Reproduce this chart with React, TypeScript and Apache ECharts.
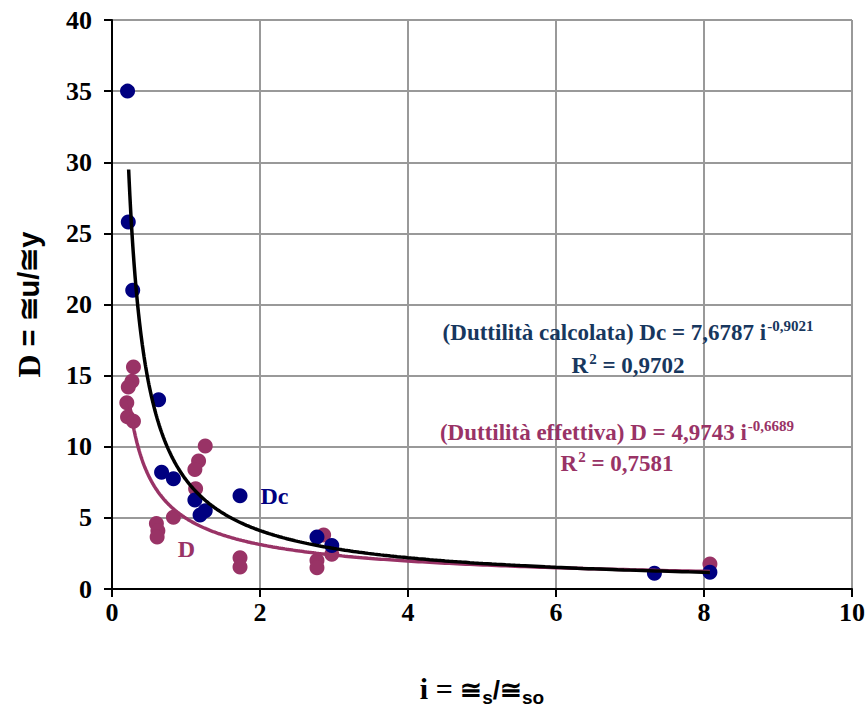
import React, { useEffect, useRef } from "react";
import * as echarts from "echarts";

const dcPoints: [number, number][] = [
  [0.21, 35.0], [0.22, 25.8], [0.28, 21.0], [0.63, 13.3], [0.67, 8.2], [0.83, 7.75],
  [1.12, 6.26], [1.19, 5.2], [1.26, 5.5], [1.73, 6.55], [2.77, 3.65], [2.97, 3.05],
  [7.33, 1.1], [8.08, 1.17],
];

const dPoints: [number, number][] = [
  [0.29, 15.6], [0.27, 14.6], [0.22, 14.2], [0.2, 13.1], [0.21, 12.1], [0.29, 11.8],
  [1.26, 10.05], [1.17, 9.0], [1.12, 8.4], [1.13, 7.05], [0.6, 4.6], [0.83, 5.05],
  [0.62, 4.1], [0.61, 3.65], [1.73, 2.2], [1.73, 1.55], [2.86, 3.8], [2.97, 2.45],
  [2.77, 2.0], [2.77, 1.5], [8.08, 1.75],
];

// Power trendlines as printed on the chart: y = a * i^b
const dcCoef = { a: 7.6787, b: -0.9021 };
const dCoef = { a: 4.9743, b: -0.6689 };
const trendStart = 0.225;
const trendEnd = 8.08;

const xTicks = { min: 0, max: 10, interval: 2 };
const yTicks = { min: 0, max: 40, interval: 5 };

function powerCurve(a: number, b: number, x0: number, x1: number): [number, number][] {
  const out: [number, number][] = [];
  const n = 300;
  for (let k = 0; k <= n; k++) {
    const x = x0 * Math.pow(x1 / x0, k / n);
    out.push([x, a * Math.pow(x, b)]);
  }
  return out;
}

const NAVY = "#000080";
const PINK = "#993366";
const EQ_BLUE = "#17375E";
const SERIF = "Liberation Serif";
const SANS = "Liberation Sans";

export default function App() {
  const ref = useRef<HTMLDivElement>(null);
  useEffect(() => {
    if (!ref.current) return;
    const chart = echarts.init(ref.current, undefined, { renderer: "svg" });
    const dcData = dcPoints.map((p) =>
      p[0] === 1.73
        ? {
            value: p,
            label: {
              show: true,
              position: "right",
              distance: 13,
              formatter: "Dc",
              color: NAVY,
              fontFamily: SERIF,
              fontWeight: "bold",
              fontSize: 24,
            },
          }
        : { value: p }
    );
    const dData = dPoints.map((p) =>
      p[0] === 0.83
        ? {
            value: p,
            label: {
              show: true,
              position: "bottom",
              distance: 12,
              offset: [13, 0],
              formatter: "D",
              color: PINK,
              fontFamily: SERIF,
              fontWeight: "bold",
              fontSize: 24,
            },
          }
        : { value: p }
    );
    const eqRich = (color: string) => ({
      a: {
        fontSize: 23,
        fontFamily: SERIF,
        fontWeight: "bold",
        fill: color,
        color,
        verticalAlign: "bottom",
      },
      s: {
        fontSize: 15,
        fontFamily: SERIF,
        fontWeight: "bold",
        fill: color,
        color,
        verticalAlign: "bottom",
        padding: [0, 0, 10, 1],
      },
    });
    chart.setOption({
      animation: false,
      backgroundColor: "#ffffff",
      grid: { left: 112, right: 16, top: 20, bottom: 120, containLabel: false, outerBoundsMode: "none" },
      xAxis: {
        type: "value",
        min: xTicks.min,
        max: xTicks.max,
        interval: xTicks.interval,
        name: "{i|i = }{c|≅}{sub|s}{c|/≅}{sub|so}",
        nameLocation: "middle",
        nameGap: 84,
        nameTextStyle: {
          rich: {
            i: { fontFamily: SERIF, fontWeight: "bold", fontSize: 30, color: "#000", verticalAlign: "bottom", padding: [0, 0, 4, 0] },
            c: { fontFamily: SANS, fontWeight: "bold", fontSize: 26, color: "#000", verticalAlign: "bottom", padding: [0, 0, 4, 0] },
            sub: { fontFamily: SANS, fontWeight: "bold", fontSize: 19, color: "#000", verticalAlign: "bottom" },
          },
        },
        axisLine: { onZero: false, lineStyle: { color: "#000", width: 2 } },
        axisTick: { show: true, inside: false, length: 8, lineStyle: { color: "#000", width: 2 } },
        axisLabel: { fontFamily: SERIF, fontWeight: "bold", fontSize: 26, color: "#000", margin: 10 },
        splitLine: { show: true, lineStyle: { color: "#999999", width: 2 } },
      },
      yAxis: {
        type: "value",
        min: yTicks.min,
        max: yTicks.max,
        interval: yTicks.interval,
        name: "{d|D }{c|= ≅u/≅y}",
        nameLocation: "middle",
        nameGap: 67,
        nameTextStyle: {
          rich: {
            d: { fontFamily: SERIF, fontWeight: "bold", fontSize: 32, color: "#000" },
            c: { fontFamily: SANS, fontWeight: "bold", fontSize: 29, color: "#000" },
          },
        },
        axisLine: { show: true, onZero: false, lineStyle: { color: "#000", width: 2 } },
        axisTick: { show: true, inside: false, length: 8, lineStyle: { color: "#000", width: 2 } },
        axisLabel: { fontFamily: SERIF, fontWeight: "bold", fontSize: 26, color: "#000", margin: 20 },
        splitLine: { show: true, lineStyle: { color: "#999999", width: 2 } },
      },
      series: [
        {
          type: "scatter",
          data: dData,
          symbol: "circle",
          symbolSize: 15,
          itemStyle: { color: PINK, opacity: 1 },
          z: 2,
        },
        {
          type: "scatter",
          data: dcData,
          symbol: "circle",
          symbolSize: 15,
          itemStyle: { color: NAVY, opacity: 1 },
          z: 3,
        },
        {
          type: "line",
          data: powerCurve(dCoef.a, dCoef.b, trendStart, trendEnd),
          showSymbol: false,
          symbol: "none",
          smooth: false,
          lineStyle: { color: PINK, width: 3.5 },
          z: 4,
        },
        {
          type: "line",
          data: powerCurve(dcCoef.a, dcCoef.b, trendStart, trendEnd),
          showSymbol: false,
          symbol: "none",
          smooth: false,
          lineStyle: { color: "#000", width: 3.5 },
          z: 5,
        },
      ],
      graphic: [
        {
          type: "text",
          x: 628,
          y: 331,
          style: {
            text: "{a|(Duttilità calcolata) Dc = 7,6787 i}{s|-0,9021}",
            rich: eqRich(EQ_BLUE),
            fill: EQ_BLUE,
            align: "center",
            verticalAlign: "middle",
          },
          z: 10,
        },
        {
          type: "text",
          x: 628,
          y: 364,
          style: {
            text: "{a|R}{s|2}{a| = 0,9702}",
            rich: eqRich(EQ_BLUE),
            fill: EQ_BLUE,
            align: "center",
            verticalAlign: "middle",
          },
          z: 10,
        },
        {
          type: "text",
          x: 617,
          y: 431,
          style: {
            text: "{a|(Duttilità effettiva) D = 4,9743 i}{s|-0,6689}",
            rich: eqRich(PINK),
            fill: PINK,
            align: "center",
            verticalAlign: "middle",
          },
          z: 10,
        },
        {
          type: "text",
          x: 617,
          y: 462,
          style: {
            text: "{a|R}{s|2}{a| = 0,7581}",
            rich: eqRich(PINK),
            fill: PINK,
            align: "center",
            verticalAlign: "middle",
          },
          z: 10,
        },
      ],
    });
    return () => chart.dispose();
  }, []);
  return <div ref={ref} style={{ width: 868, height: 709, position: "absolute", left: 0, top: 0 }} />;
}
